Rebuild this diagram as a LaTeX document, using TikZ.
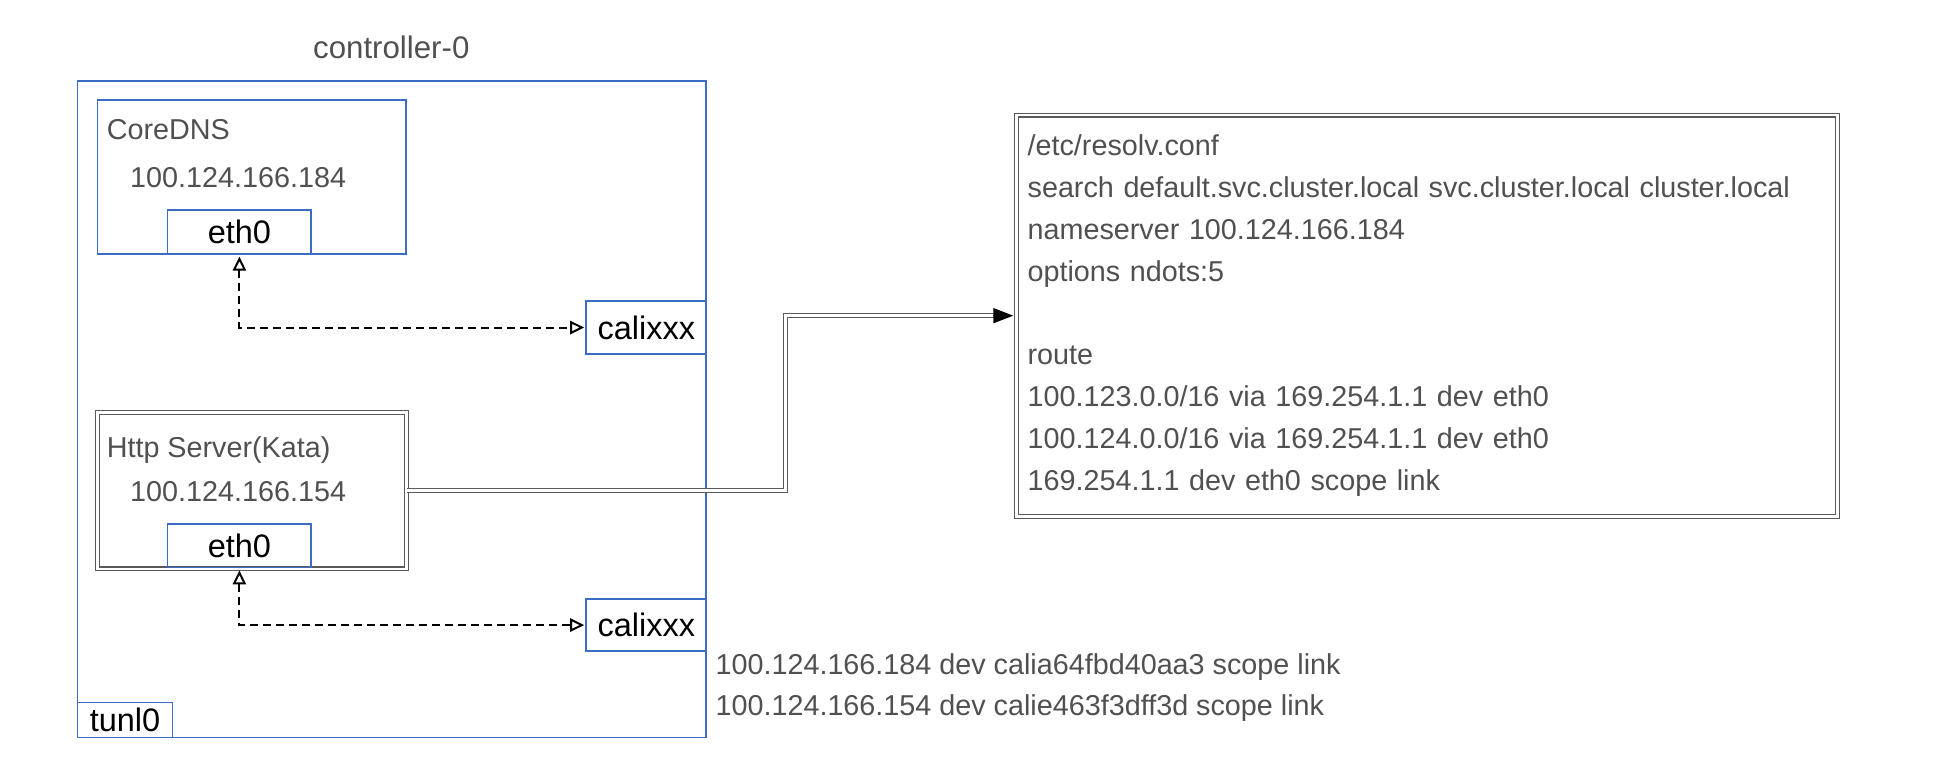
\documentclass[tikz,border=0pt]{standalone}
\usepackage{fontspec}
\setmainfont{Liberation Sans}
\usetikzlibrary{arrows.meta}

\definecolor{boxblue}{HTML}{3B6CC6}
\definecolor{textgray}{HTML}{505050}
\definecolor{linegray}{HTML}{5A5A5A}

\begin{document}
\begin{tikzpicture}[
            x=0.5pt, y=-0.5pt,
            bluebox/.style={rectangle, draw=boxblue, line width=0.7pt, inner sep=0pt},
            ifbox/.style={bluebox, font=\fontsize{13}{15}\selectfont},
            graytext/.style={text=textgray, inner sep=0pt, text height=1.5ex, text depth=0.4ex,
                font=\fontsize{11.5}{14}\selectfont},
            podbox/.style={rectangle, draw=linegray, line width=0.5pt, double, double distance=1pt, inner sep=0pt},
            confbox/.style={podbox, text=textgray, align=left, inner xsep=4.5pt,
                font=\fontsize{11.5}{16.75}\selectfont},
            dasharrow/.style={dash pattern=on 3.2pt off 2pt, line width=0.8pt,
                {Triangle[open, length=5.6pt, width=5.3pt]}-{Triangle[open, length=5.6pt, width=5.3pt]},
                shorten <=0.8pt, shorten >=0.5pt},
            pipeline/.style={draw=linegray, line width=0.5pt, double, double distance=1pt},
        ]
            \useasboundingbox (0,0) rectangle (1555,610);

            % Nodes
            \node[bluebox, minimum width=251.5pt, minimum height=262.5pt] (controller) at (313.5,327.5) {};
            \node[graytext, font=\fontsize{12.5}{14}\selectfont] (ctrltitle) at (313,41) {controller-0};

            \node[bluebox, minimum width=123.5pt, minimum height=61.5pt] (coredns) at (201.5,141.5) {};
            \node[graytext, anchor=west] (corednsname) at (85,105.5) {CoreDNS};
            \node[graytext] (corednsip) at (190.5,144) {100.124.166.184};
            \node[ifbox, minimum width=57.5pt, minimum height=17.5pt] (corednseth) at (191.5,185.5) {eth0};
            \node[ifbox, minimum width=48pt, minimum height=21pt] (corednscali) at (517,262) {calixxx};

            \node[podbox, minimum width=123.5pt, minimum height=62.5pt] (http) at (201.5,392.5) {};
            \node[graytext, anchor=west] (httpname) at (85,360) {Http Server(Kata)};
            \node[graytext] (httpip) at (190.5,395) {100.124.166.154};
            \node[ifbox, minimum width=57.5pt, minimum height=17.5pt] (httpeth) at (191.5,436.5) {eth0};
            \node[ifbox, minimum width=48pt, minimum height=21pt] (httpcali) at (517,500) {calixxx};

            \node[ifbox, minimum width=38pt, minimum height=14pt] (tunl) at (100,576) {tunl0};
            \node[graytext, anchor=west] (route1) at (572,533.5) {100.124.166.184 dev calia64fbd40aa3 scope link};
            \node[graytext, anchor=west] (route2) at (572,566.7) {100.124.166.154 dev calie463f3dff3d scope link};

            \node[confbox, minimum height=160.5pt, text width=319.5pt] (resolv) at (1141.5,252.5) {
                /etc/resolv.conf\\
                search default.svc.cluster.local svc.cluster.local cluster.local\\
                nameserver 100.124.166.184\\
                options ndots:5\\[16.75pt]
                route\\
                100.123.0.0/16 via 169.254.1.1 dev eth0\\
                100.124.0.0/16 via 169.254.1.1 dev eth0\\
                169.254.1.1 dev eth0 scope link};

            % Lines
            \draw[dasharrow] (corednseth.south) |- (corednscali.west);
            \draw[dasharrow] (httpeth.south) |- (httpcali.west);
            \draw[pipeline, shorten >=7pt] (http.east) -- ++(303,0) |- (resolv.west);
            \draw[-{Triangle[length=8pt, width=6pt]}, line width=0.6pt] ([xshift=-9pt]resolv.west) -- ([xshift=-1pt]resolv.west);
        \end{tikzpicture}
\end{document}
